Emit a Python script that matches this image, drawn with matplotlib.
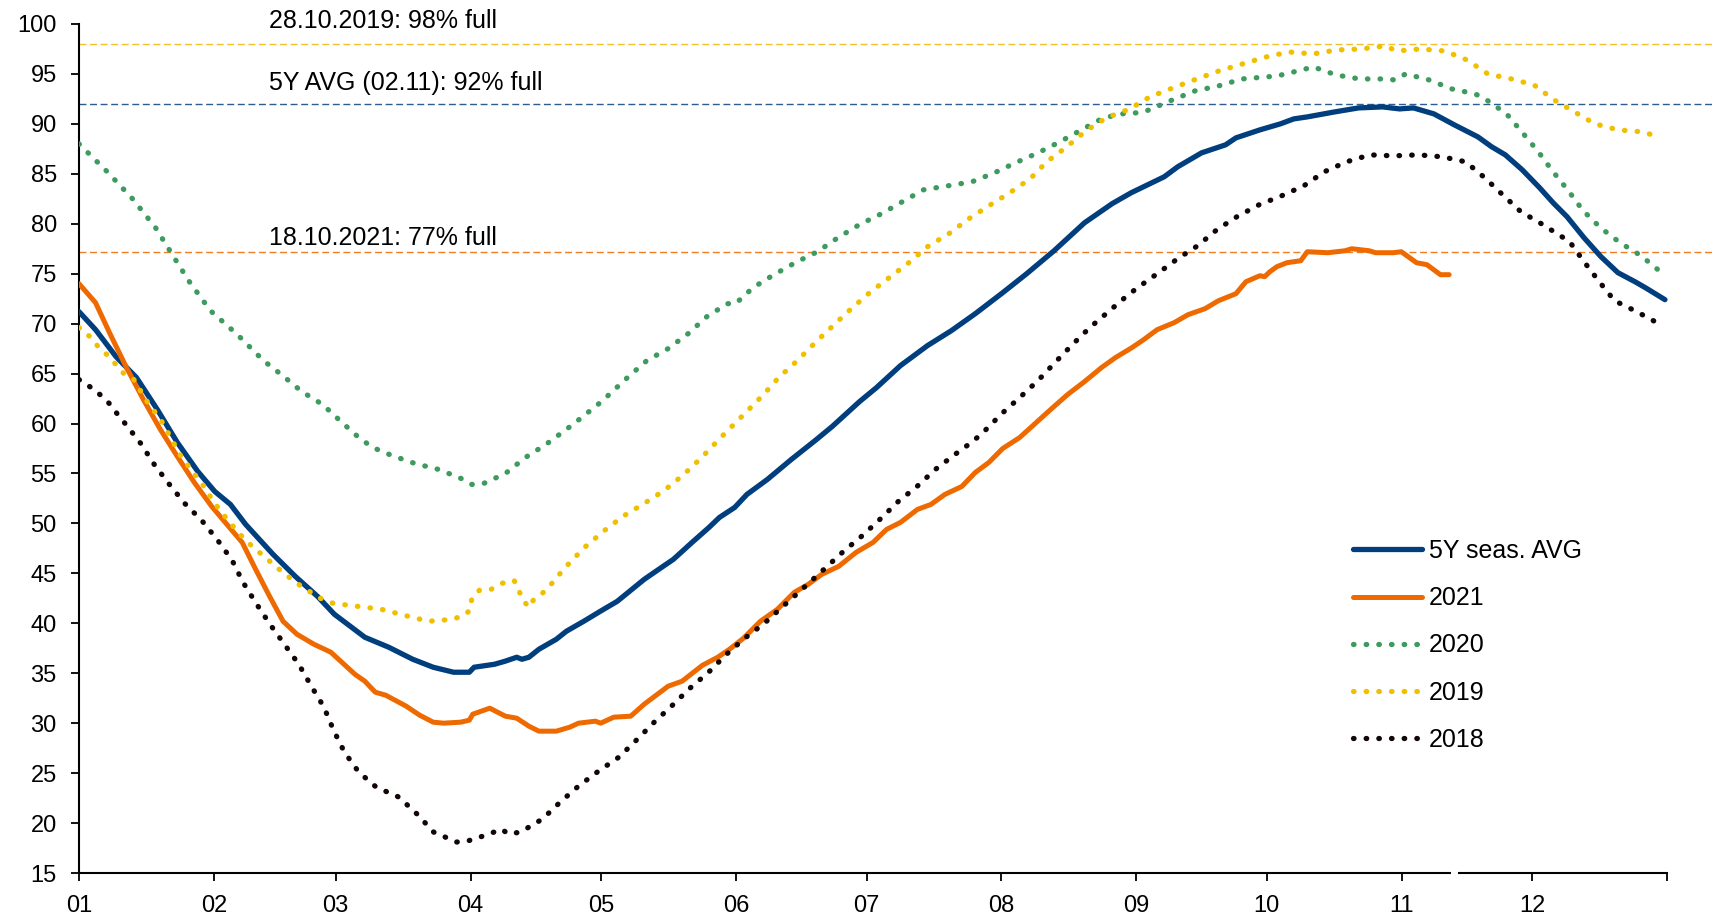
import matplotlib.pyplot as plt
from matplotlib.ticker import FixedLocator

# x = day of the year (0 = 1 Jan), y = storage filling level in %
avg_days = [0, 3.8, 8.5, 13.2, 18, 22.6, 27.3, 31.2, 34.8, 38.3, 44.6, 49.7, 54.8, 58.7, 65.7,
            71.2, 76.7, 81.4, 86.1, 89.7, 90.8, 95.5, 97.9, 100.6, 101.8, 103.4, 105.7, 109.7,
            112, 116, 119.8, 123.7, 129.9, 133.9, 136.6, 140.9, 144.8, 147.2, 150.7, 153.5,
            158.2, 163.7, 169.2, 173.1, 179.4, 183.3, 188.8, 195, 200.5, 206, 212.3, 217.8,
            224.1, 231.1, 237.4, 241.8, 249.4, 252.5, 258, 263.5, 265.9, 271.4, 276.1, 279.2,
            282.3, 288.6, 294.1, 299.6, 303.5, 306.7, 311.4, 316.1, 321.5, 324.7, 327.8,
            331.7, 335.7, 338.8, 342, 345.9, 349.8, 353.7, 357.6, 360, 364.5]
avg_vals = [71.2, 69.4, 66.7, 64.6, 61.4, 58.1, 55.2, 53.2, 51.9, 49.9, 46.9, 44.7, 42.7, 40.9,
            38.6, 37.6, 36.4, 35.6, 35.1, 35.1, 35.6, 35.9, 36.2, 36.6, 36.4, 36.6, 37.4, 38.4,
            39.2, 40.2, 41.2, 42.2, 44.4, 45.6, 46.4, 48.1, 49.6, 50.6, 51.6, 52.9, 54.4, 56.4,
            58.3, 59.7, 62.2, 63.6, 65.8, 67.8, 69.3, 71.0, 73.1, 75.0, 77.3, 80.1, 82.0, 83.1,
            84.7, 85.7, 87.1, 87.9, 88.6, 89.4, 90.0, 90.5, 90.7, 91.2, 91.6, 91.7, 91.5, 91.6,
            91.0, 89.9, 88.7, 87.7, 86.9, 85.4, 83.6, 82.1, 80.7, 78.6, 76.7, 75.1, 74.2, 73.6,
            72.4]

y2021_days = [0, 3.8, 7, 10.8, 14.8, 18.7, 22.6, 26.5, 30.5, 33.6, 37.5, 40.6, 43.8, 46.9, 50.1,
              54, 57.9, 63.4, 65.7, 68.1, 70.5, 75.2, 78.3, 81.4, 83.8, 87.7, 89.7, 90.5, 94.4,
              98, 100.6, 103.4, 105.7, 109.7, 112.8, 114.8, 118.7, 119.9, 122.9, 126.8, 129.9,
              135.4, 138.6, 143.3, 146.8, 149.5, 152.7, 156.6, 160.5, 164.4, 167.6, 170.7,
              174.6, 178.6, 182.5, 185.6, 188.8, 192.7, 195.8, 199, 202.9, 206, 209.1, 212.3,
              216.2, 223.3, 227.2, 231.1, 235, 238.2, 242, 244.7, 247.8, 251.7, 254.9, 258.8,
              261.9, 265.9, 268.2, 271.4, 272.5, 273.7, 275.3, 277.6, 280.8, 282.3, 287, 291,
              292.5, 296.5, 298, 302, 303.9, 307.4, 309.8, 312.9, 314.9]
y2021_vals = [74.0, 72.1, 69.1, 65.7, 62.4, 59.4, 56.7, 54.1, 51.7, 50.1, 48.1, 45.4, 42.7, 40.2,
              38.9, 37.9, 37.1, 34.9, 34.2, 33.1, 32.8, 31.7, 30.8, 30.1, 30.0, 30.1, 30.3, 30.9,
              31.5, 30.7, 30.5, 29.7, 29.2, 29.2, 29.6, 30.0, 30.2, 30.0, 30.6, 30.7, 31.9, 33.7,
              34.2, 35.8, 36.6, 37.4, 38.5, 40.2, 41.4, 43.1, 43.9, 44.9, 45.7, 47.1, 48.1, 49.4,
              50.1, 51.4, 51.9, 52.9, 53.7, 55.1, 56.1, 57.5, 58.6, 61.4, 62.9, 64.2, 65.6, 66.6,
              67.6, 68.4, 69.4, 70.1, 70.9, 71.5, 72.3, 73.0, 74.2, 74.8, 74.7, 75.2, 75.7, 76.1,
              76.3, 77.2, 77.1, 77.3, 77.5, 77.3, 77.1, 77.1, 77.2, 76.1, 75.9, 74.9, 74.9]

y2020_days = [0, 6.5, 12.3, 17.6, 20.6, 25.2, 30.2, 36.4, 42.4, 46.8, 51.2, 56, 60.2, 64.3, 67.5,
              71.9, 77.2, 82.7, 87.8, 90.3, 93, 98, 102.6, 107.3, 113.5, 120.1, 126.3, 130.5,
              135.4, 140, 144.3, 149, 150.9, 154.9, 159.7, 164.6, 169.7, 174.4, 179.3, 184.4,
              189.2, 194.1, 199.7, 205.2, 210.4, 215.2, 220.4, 225.4, 230.4, 235.4, 240.9, 243.3,
              246, 248.6, 251.3, 256.5, 261.9, 267.3, 272.8, 275.4, 281, 283.7, 288.9, 294.3,
              299.8, 302.4, 304.9, 310.3, 315.5, 320.9, 323.5, 328.1, 331.8, 335.4, 338.8, 342.3,
              345.7, 349.7, 354.2, 359, 364]
y2020_vals = [88.0, 85.2, 82.5, 79.6, 77.5, 74.3, 71.3, 68.9, 66.3, 64.8, 63.2, 61.9, 60.2, 58.6,
              57.6, 56.8, 56.0, 55.4, 54.5, 53.9, 54.0, 55.0, 56.6, 57.9, 59.9, 62.2, 64.7, 66.3,
              67.5, 69.0, 70.7, 72.0, 72.0, 73.6, 74.9, 76.1, 77.2, 78.6, 79.9, 81.0, 82.2, 83.4,
              83.8, 84.2, 85.1, 86.1, 87.1, 88.2, 89.4, 90.6, 91.1, 91.1, 91.4, 91.9, 92.4, 93.3,
              93.8, 94.5, 94.7, 94.8, 95.4, 95.7, 94.9, 94.5, 94.5, 94.4, 95.0, 94.4, 93.5, 93.0,
              92.4, 91.0, 89.1, 87.2, 85.2, 83.3, 81.3, 79.6, 78.1, 76.8, 75.0]

y2019_days = [0, 2.5, 4.4, 6.4, 8.3, 10.3, 12.6, 15.5, 18.9, 21.7, 23, 26.4, 28.1, 31.2, 34.8,
              38.5, 42.8, 47.1, 51.1, 55.5, 58.4, 64, 69.5, 74.8, 80.3, 85.8, 88.6, 89.8, 90.3,
              92, 94.7, 97.2, 100, 101, 101.9, 103.4, 104.4, 106.5, 108.5, 110.4, 112.2, 116.2,
              120.5, 125, 129.9, 134.5, 139, 143.1, 147.5, 153, 157.1, 160.8, 165.1, 169.2,
              173.3, 177.5, 181.7, 186.2, 190.7, 195, 199.9, 204.5, 209.1, 213.9, 218.6, 222.4,
              227, 231.4, 236.1, 241.5, 246.1, 251.4, 256.9, 262, 267.4, 272.8, 278.1, 283.6,
              289.1, 294.7, 300.2, 302.9, 308.2, 313.9, 319, 323.8, 329.2, 334.4, 339, 343.7,
              348.4, 353.7, 359.4, 363]
y2019_vals = [69.6, 68.7, 67.7, 66.9, 66.0, 65.0, 64.4, 62.3, 60.3, 58.1, 57.0, 55.0, 54.1, 52.0,
              50.0, 48.2, 46.6, 45.0, 43.7, 42.5, 42.0, 41.7, 41.4, 40.8, 40.2, 40.4, 40.8, 41.3,
              42.5, 43.3, 43.4, 44.0, 44.3, 43.4, 42.4, 41.6, 42.3, 43.0, 43.9, 44.9, 45.8, 47.6,
              49.2, 50.7, 52.0, 53.3, 54.9, 56.6, 58.6, 61.0, 62.8, 64.6, 66.3, 68.1, 69.8, 71.5,
              73.1, 74.6, 76.1, 77.7, 79.0, 80.5, 81.8, 83.1, 84.5, 86.2, 87.7, 89.3, 90.6, 91.5,
              92.7, 93.6, 94.5, 95.3, 96.0, 96.7, 97.2, 97.0, 97.4, 97.5, 97.8, 97.3, 97.5, 97.3,
              96.4, 95.0, 94.5, 93.9, 92.4, 91.2, 90.0, 89.4, 89.2, 88.7]

y2018_days = [0, 2.8, 5.1, 7.2, 8.9, 10.6, 12.4, 14.2, 17.3, 20.6, 24.3, 28.2, 31.9, 35.2, 37.7,
              40.7, 43.9, 47.2, 50.5, 53.4, 56.3, 58.5, 61, 64.3, 68.3, 73.5, 77.7, 81.5, 86.8,
              89.3, 94.3, 97, 98.8, 101.5, 106.5, 110.6, 114.8, 119.4, 124.1, 128.1, 132.2, 136.4,
              140.4, 144.7, 148.8, 153, 157.5, 161.8, 165.9, 170.2, 175.7, 180.1, 184.3, 188.3,
              192.6, 196.8, 201.3, 205.4, 208, 212.1, 216.2, 220.4, 224.3, 228.3, 232.3, 236.6,
              240.9, 243.3, 247.8, 252.5, 257.1, 261.5, 266.1, 271.2, 276.4, 281.5, 286.2, 291.3,
              296.7, 302.1, 307.8, 313.4, 318.7, 323.1, 327.2, 331.4, 336.1, 340.1, 342.6, 345.9,
              349.4, 352.9, 358, 363.5]
y2018_vals = [64.4, 63.6, 62.8, 61.9, 60.9, 60.0, 59.0, 58.0, 55.9, 54.0, 52.0, 50.3, 48.3, 46.3,
              44.1, 42.0, 39.9, 37.9, 35.9, 33.7, 31.6, 29.3, 27.1, 25.1, 23.6, 22.6, 20.9, 19.1,
              18.1, 18.2, 18.9, 19.4, 18.9, 19.1, 20.4, 22.1, 23.7, 25.2, 26.6, 28.3, 30.1, 31.8,
              33.5, 35.1, 36.9, 38.5, 40.0, 41.7, 43.3, 45.0, 47.2, 48.8, 50.5, 52.2, 53.7, 55.4,
              56.9, 58.2, 59.2, 61.0, 62.6, 64.3, 66.1, 67.9, 69.6, 71.2, 72.8, 73.6, 75.0, 76.5,
              77.8, 79.4, 80.7, 81.9, 82.8, 83.8, 85.2, 86.2, 86.9, 86.8, 86.9, 86.7, 86.2, 84.6,
              82.9, 81.2, 80.0, 78.9, 78.2, 76.2, 74.2, 72.3, 71.2, 69.9]

ref_levels = [98.0, 92.0, 77.2]
ref_labels = ['28.10.2019: 98% full', '5Y AVG (02.11): 92% full', '18.10.2021: 77% full']
ref_text_y = [99.55, 93.35, 77.9]
ref_colors = ['#F2C12E', '#2F5C8F', '#F07D22']

month_days = [0, 31, 59, 90, 120, 151, 181, 212, 243, 273, 304, 334, 365]
month_labels = ['01', '02', '03', '04', '05', '06', '07', '08', '09', '10', '11', '12', '']

navy = '#003E7E'
orange = '#EE6A00'
green = '#3E9A5E'
yellow = '#F0C000'
black = '#120606'

plt.rcParams['font.family'] = ['Liberation Sans', 'DejaVu Sans']

fig = plt.figure(figsize=(17.15, 9.17), dpi=100)
ax = fig.add_axes([79 / 1715, 44 / 917, 1 - 79 / 1715, (873 - 24) / 917])

for level, color in zip(ref_levels, ref_colors):
    ax.axhline(level, color=color, lw=1.0, linestyle=(0, (5, 2.6)), zorder=1)
for label, ty in zip(ref_labels, ref_text_y):
    ax.text(43.6, ty, label, fontsize=18, va='baseline', ha='left', clip_on=False)

dotted = (0, (0.1, 2.3))
dot_lw = 3.8
ax.plot(avg_days, avg_vals, color=navy, lw=3.8, solid_capstyle='round', label='5Y seas. AVG', zorder=3)
ax.plot(y2021_days, y2021_vals, color=orange, lw=3.6, solid_capstyle='round', label='2021', zorder=3)
ax.plot(y2020_days, y2020_vals, color=green, lw=dot_lw, linestyle=dotted, dash_capstyle='round',
        label='2020', zorder=3)
ax.plot(y2019_days, y2019_vals, color=yellow, lw=dot_lw, linestyle=dotted, dash_capstyle='round',
        label='2019', zorder=3)
ax.plot(y2018_days, y2018_vals, color=black, lw=dot_lw, linestyle=dotted, dash_capstyle='round',
        label='2018', zorder=3)

ax.set_xlim(0, 376)
ax.set_ylim(15, 100)
ax.xaxis.set_major_locator(FixedLocator(month_days))
ax.set_xticklabels(month_labels)
ax.set_yticks(range(15, 101, 5))

for side in ['top', 'right']:
    ax.spines[side].set_visible(False)
ax.spines['bottom'].set_bounds(0, 365)
for side in ['left', 'bottom']:
    ax.spines[side].set_linewidth(1.5)
ax.tick_params(axis='both', direction='out', length=6, width=1.3, labelsize=17, pad=10)

# small break in the date axis where the 2021 data stops
ax.plot([315.3, 317.0], [15, 15], color='white', lw=3, clip_on=False, zorder=5,
        solid_capstyle='butt')

ax.legend(loc='upper left', bbox_to_anchor=(1353 / 1715, 1 - 539 / 917),
          bbox_transform=fig.transFigure, frameon=False, fontsize=18,
          handlelength=2.75, handletextpad=0.3, labelspacing=0.93,
          borderpad=0, borderaxespad=0)

fig.savefig('out.png', dpi=100)
